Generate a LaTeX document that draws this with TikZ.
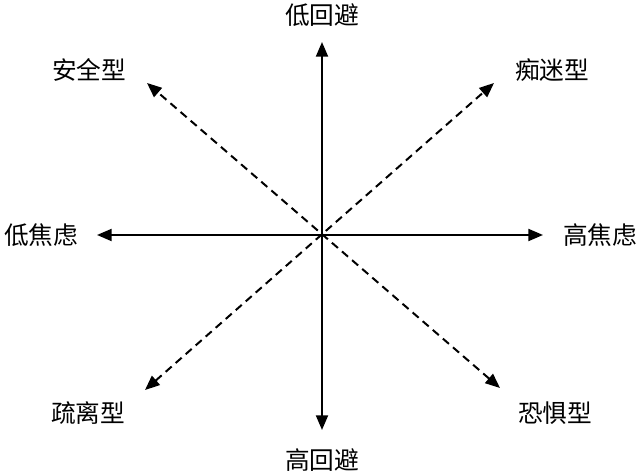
\documentclass[tikz,border=0pt]{standalone}
\usepackage{fontspec}
\newfontfamily\cjk{Noto Sans CJK SC}
\usetikzlibrary{arrows.meta}
\begin{document}
\begin{tikzpicture}[x=0.75pt,y=0.75pt,line join=round,>={Triangle[length=11pt,width=9pt]},line width=1.5pt]
			\tikzset{every node/.style={font=\cjk\fontsize{18.5pt}{22pt}\selectfont,inner sep=0pt},
				diag/.style={dash pattern=on 6pt off 4pt,line cap=butt}}
			\useasboundingbox (0,0) rectangle (640,474);
			\coordinate (O) at (322,239);
			% tips of the axes
			\coordinate (top) at (322,432);
			\coordinate (bot) at (322,44);
			\coordinate (lft) at (97,239);
			\coordinate (rgt) at (543,239);
			\coordinate (tl) at (147,391);
			\coordinate (tr) at (494,391);
			\coordinate (bl) at (145,84);
			\coordinate (br) at (500,86);
			\draw[<->] (bot)--(top);
			\draw[<->] (lft)--(rgt);
			\draw[<->,diag] (bl)--(tr);
			\draw[<->,diag] (br)--(tl);
			% labels
			\node (lowav) at (322,459) {低回避};
			\node (highav) at (322,14) {高回避};
			\node (lowanx) at (41,239) {低焦虑};
			\node (highanx) at (600,239) {高焦虑};
			\node (secure) at (89,404) {安全型};
			\node (preocc) at (552,404) {痴迷型};
			\node (dismiss) at (88,61) {疏离型};
			\node (fear) at (555,61) {恐惧型};
		\end{tikzpicture}
\end{document}
